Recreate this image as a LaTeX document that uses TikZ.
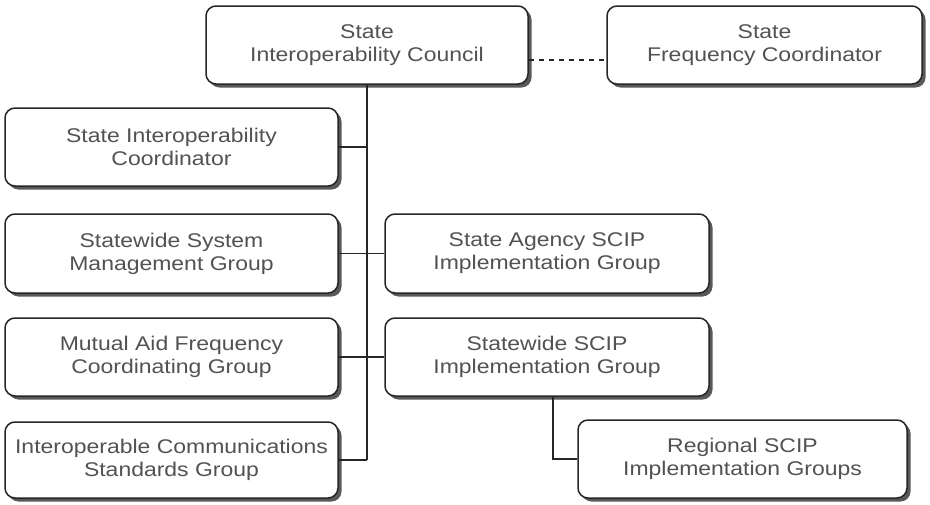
\documentclass[tikz,border=0pt]{standalone}
\usepackage{fontspec}
\setmainfont{Liberation Sans}[FakeStretch=1.16]
\usetikzlibrary{shadows}
\begin{document}
\begin{tikzpicture}[x=1pt,y=-1pt,
  orgbox/.style={draw=black!85, line width=1.5pt, rounded corners=10pt, fill=white,
    align=center, inner sep=0pt, text=black!68,
    font=\fontsize{19.8}{23}\selectfont,
    drop shadow={shadow xshift=3.5pt, shadow yshift=-3.5pt, fill=black!65, opacity=1}},
  link/.style={draw=black!85, line width=1.5pt}]
\useasboundingbox (0,0) rectangle (930,504);
\node[orgbox, minimum width=322pt, minimum height=78pt] (council) at (367,45) {State\\Interoperability Council};
\node[orgbox, minimum width=315pt, minimum height=78pt] (freq) at (764.5,45) {State\\Frequency Coordinator};
\node[orgbox, minimum width=333pt, minimum height=78pt] (sic) at (171.5,147) {State Interoperability\\Coordinator};
\node[orgbox, minimum width=333pt, minimum height=79pt] (ssmg) at (171.5,253.5) {Statewide System\\Management Group};
\node[orgbox, minimum width=333pt, minimum height=78pt] (mafcg) at (171.5,357) {Mutual Aid Frequency\\Coordinating Group};
\node[orgbox, minimum width=333pt, minimum height=76pt] (icsg) at (171.5,460) {Interoperable Communications\\Standards Group};
\node[orgbox, minimum width=324pt, minimum height=79pt] (agency) at (547,253.5) {State Agency SCIP\\Implementation Group};
\node[orgbox, minimum width=324pt, minimum height=78pt] (sscip) at (547,357) {Statewide SCIP\\Implementation Group};
\node[orgbox, minimum width=329pt, minimum height=78pt] (regional) at (742.5,459) {Regional SCIP\\Implementation Groups};
\coordinate (trunkend) at (council.south |- icsg.east);
\coordinate (dashstart) at ([yshift=-15pt]council.east);
\draw[link] (council.south) -- (trunkend);
\draw[link] (sic.east) -- (council.south |- sic.east);
\draw[link] (ssmg.east) -- (agency.west);
\draw[link] (mafcg.east) -- (sscip.west);
\draw[link] (icsg.east) -- (trunkend);
\draw[link] ([xshift=6pt]sscip.south) |- (regional.west);
\draw[link, dash pattern=on 5pt off 5pt] (dashstart) -- (freq.west |- dashstart);
\end{tikzpicture}
\end{document}
